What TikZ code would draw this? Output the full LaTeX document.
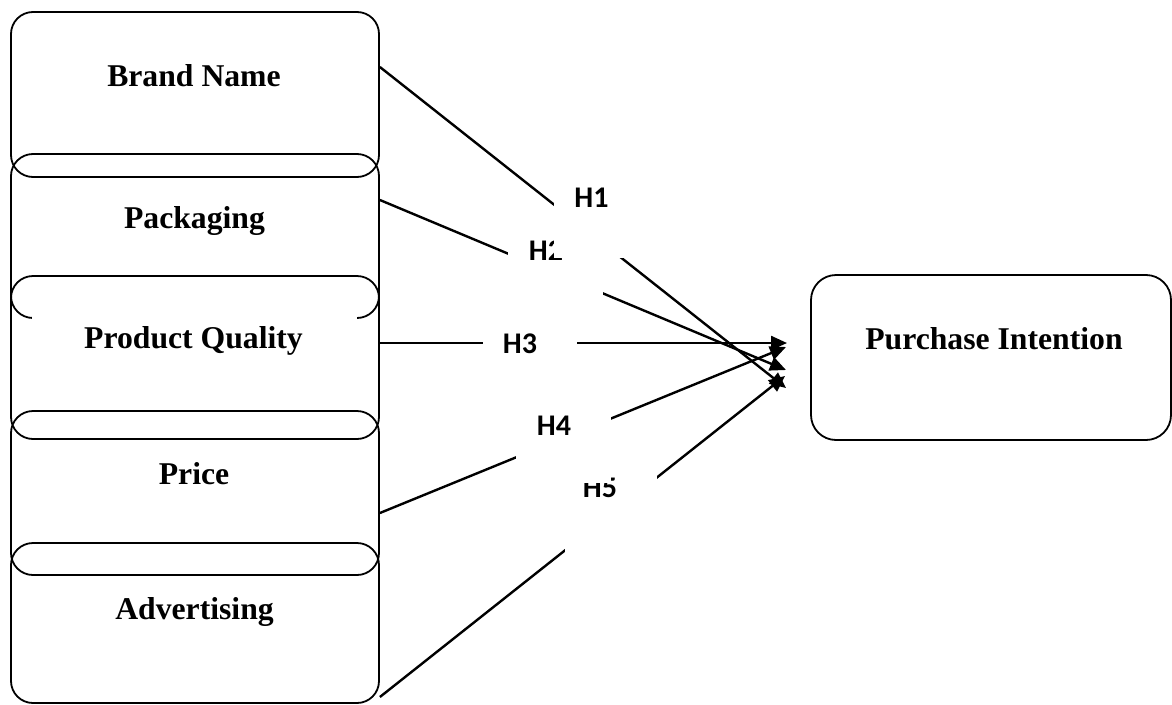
\documentclass[tikz,border=0pt]{standalone}
\usepackage{fontspec}
\setmainfont{Liberation Serif}
\newfontfamily\hypfont{Carlito}
\usetikzlibrary{arrows.meta}
\begin{document}
\begin{tikzpicture}[x=1pt,y=-1pt,
  varbox/.style={draw, line width=1.8pt, rounded corners=22pt, inner sep=0pt, minimum width=368pt},
  boxtext/.style={font=\fontsize{31.7}{38}\selectfont\bfseries, inner sep=0pt, anchor=base},
  hyp/.style={font=\hypfont\bfseries\fontsize{30}{36}\selectfont, inner sep=0pt},
  cover/.style={fill=white, draw=none, inner sep=0pt},
  conn/.style={line width=2.4pt, -{Triangle[length=16pt,width=14pt]}}]
\useasboundingbox (0,0) rectangle (1172,704);
% boxes
\node[varbox, minimum height=165pt] (brand) at (195,94.5) {};
\node[varbox, minimum height=164pt] (pack) at (195,236) {};
\node[varbox, minimum height=163pt] (qual) at (195,357.5) {};
\node[varbox, minimum height=164pt] (price) at (195,493) {};
\node[varbox, minimum height=160pt] (adv) at (195,623) {};
\node[varbox, rounded corners=25pt, minimum width=360pt, minimum height=165pt] (pi) at (991,357.5) {};
% text box of Product Quality (white)
\node[cover, minimum width=325pt, minimum height=72pt] (qualbg) at (194.5,336) {};
% box texts
\node[boxtext] (brandt) at (194,86) {Brand Name};
\node[boxtext] (packt) at (194.5,228) {Packaging};
\node[boxtext] (qualt) at (193.5,348) {Product Quality};
\node[boxtext] (pricet) at (194,484) {Price};
\node[boxtext] (advt) at (194.5,619) {Advertising};
\node[boxtext] (pit) at (994,349) {Purchase Intention};
% arrow tips
\coordinate (t1) at (786,388);
\coordinate (t2) at (786,370);
\coordinate (t3) at (787,343);
\coordinate (t4) at (786,347);
\coordinate (t5) at (785,376);
% connectors
\draw[conn] ([yshift=27.5pt]brand.east) -- (t1);
\draw[conn] ([yshift=36pt]pack.east) -- (t2);
\draw[conn] ([yshift=14.5pt]qual.east) -- (t3);
\draw[conn] ([yshift=-20pt]price.east) -- (t4);
\draw[conn] ([yshift=-74pt]adv.east) -- (t5);
% hypothesis labels with their white text boxes
\node[cover, minimum width=94pt, minimum height=50pt] (h3box) at (530,343) {};
\node[hyp] (h3) at (520,343.5) {H3};
\node[cover, minimum width=92pt, minimum height=90pt] (h5box) at (611,510) {};
\node[hyp] (h5) at (600,488) {H5};
\node[cover, minimum width=95pt, minimum height=83pt] (h4box) at (563.5,441.5) {};
\node[hyp] (h4) at (554,426) {H4};
\node[cover, minimum width=95pt, minimum height=73pt] (h2box) at (555.5,261.5) {};
\node[hyp] (h2) at (546,251) {H2};
\node[cover, minimum width=86pt, minimum height=86pt] (h1box) at (597,215) {};
\node[hyp] (h1) at (591.5,197.5) {H1};
\end{tikzpicture}
\end{document}
